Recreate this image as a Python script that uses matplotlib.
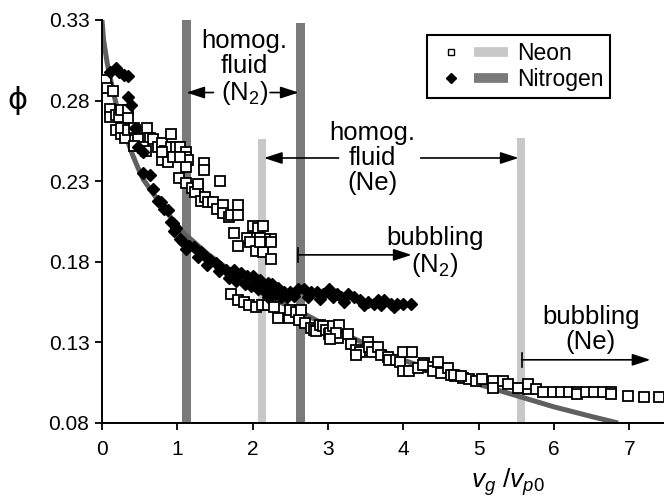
import numpy as np
import matplotlib
matplotlib.use("Agg")
import matplotlib.pyplot as plt
from matplotlib.lines import Line2D
from matplotlib.legend_handler import HandlerTuple

plt.rcParams['font.family'] = ['Liberation Sans', 'DejaVu Sans']
plt.rcParams['mathtext.fontset'] = 'custom'
plt.rcParams['mathtext.rm'] = 'Liberation Sans'
plt.rcParams['mathtext.it'] = 'Liberation Sans:italic'

# ---- data ----
neon_pts = [
    (0.05, 0.293), (0.06, 0.288), (0.14, 0.286), (0.11, 0.275), (0.11, 0.270),
    (0.18, 0.271), (0.22, 0.270), (0.25, 0.274), (0.34, 0.274), (0.35, 0.269),
    (0.18, 0.262), (0.25, 0.259), (0.31, 0.257), (0.25, 0.263), (0.35, 0.262),
    (0.44, 0.262), (0.42, 0.263), (0.48, 0.256), (0.42, 0.252), (0.60, 0.263),
    (0.64, 0.257), (0.68, 0.256), (0.55, 0.251), (0.58, 0.249), (0.74, 0.251),
    (0.80, 0.254), (0.84, 0.249), (0.91, 0.259), (0.91, 0.251), (0.98, 0.251),
    (0.80, 0.243), (0.80, 0.248), (0.87, 0.242), (0.94, 0.245), (1.04, 0.251),
    (1.11, 0.248), (1.11, 0.245), (1.14, 0.243), (1.11, 0.239), (1.04, 0.245),
    (1.35, 0.241), (1.35, 0.237), (1.57, 0.230), (1.02, 0.232), (1.11, 0.229),
    (1.20, 0.226), (1.28, 0.226), (1.24, 0.223), (1.31, 0.218), (1.37, 0.220),
    (1.41, 0.217), (1.48, 0.217), (1.53, 0.213), (1.60, 0.215), (1.60, 0.210),
    (1.68, 0.208), (1.71, 0.209), (1.81, 0.215), (1.81, 0.209), (1.75, 0.198),
    (2.00, 0.202), (2.07, 0.201), (2.14, 0.202), (2.01, 0.195), (2.24, 0.194),
    (2.17, 0.194), (1.93, 0.195), (2.10, 0.195), (1.81, 0.190), (1.97, 0.192),
    (2.04, 0.187), (2.14, 0.189), (2.14, 0.186), (2.24, 0.192), (2.24, 0.182),
    (2.10, 0.192), (1.28, 0.228),
    (1.71, 0.160), (1.81, 0.156), (1.88, 0.155), (1.95, 0.153), (2.04, 0.152),
    (2.13, 0.153), (2.20, 0.153), (2.28, 0.152), (2.33, 0.145), (2.48, 0.145),
    (2.50, 0.150), (2.57, 0.149), (2.61, 0.144), (2.64, 0.150), (2.70, 0.142),
    (2.77, 0.139), (2.81, 0.138), (2.84, 0.137), (2.90, 0.141), (2.93, 0.140),
    (2.97, 0.138), (3.01, 0.135), (3.03, 0.136), (3.07, 0.140), (3.13, 0.133),
    (3.14, 0.141), (3.10, 0.136), (3.03, 0.132), (3.27, 0.135), (3.30, 0.129),
    (3.37, 0.125), (3.43, 0.124), (3.37, 0.122), (3.53, 0.130), (3.54, 0.127),
    (3.59, 0.124), (3.67, 0.127), (3.70, 0.122), (3.79, 0.121), (3.81, 0.119),
    (3.90, 0.119), (3.96, 0.118), (3.99, 0.124), (4.12, 0.124), (4.00, 0.112),
    (4.07, 0.112), (4.20, 0.114), (4.27, 0.117), (4.36, 0.115), (4.40, 0.112),
    (4.46, 0.118), (4.50, 0.111), (4.59, 0.114), (4.63, 0.110), (4.69, 0.109),
    (4.79, 0.108), (4.87, 0.107), (4.96, 0.106), (5.05, 0.107), (5.19, 0.106),
    (5.19, 0.102), (5.32, 0.106), (5.39, 0.104), (5.52, 0.102), (5.65, 0.101),
    (5.66, 0.104), (5.76, 0.101), (5.86, 0.099), (5.98, 0.099), (6.09, 0.099),
    (6.20, 0.099), (6.31, 0.099), (6.31, 0.098), (6.42, 0.099), (6.53, 0.099),
    (6.65, 0.099), (6.75, 0.099), (6.75, 0.098), (6.98, 0.097), (7.19, 0.096),
    (7.39, 0.096), (4.26, 0.116), (4.67, 0.110), (4.76, 0.109),
]

nitrogen_pts = [
    (0.11, 0.298), (0.18, 0.300), (0.23, 0.298), (0.29, 0.296), (0.34, 0.295),
    (0.35, 0.282), (0.39, 0.277), (0.44, 0.263), (0.48, 0.251), (0.54, 0.248),
    (0.55, 0.235), (0.64, 0.234), (0.68, 0.225), (0.74, 0.218), (0.78, 0.217),
    (0.82, 0.213), (0.87, 0.212), (0.91, 0.205), (0.94, 0.204), (0.98, 0.201),
    (0.95, 0.199), (1.04, 0.194), (1.08, 0.192), (1.15, 0.190), (1.22, 0.189),
    (1.31, 0.186), (1.35, 0.184), (1.44, 0.181), (1.51, 0.179), (1.57, 0.177),
    (1.64, 0.175), (1.71, 0.173), (1.75, 0.175), (1.81, 0.171), (1.84, 0.173),
    (1.93, 0.171), (2.01, 0.171), (2.05, 0.168), (2.10, 0.169), (2.14, 0.163),
    (2.20, 0.167), (2.20, 0.158), (2.26, 0.166), (2.28, 0.163), (2.33, 0.164),
    (2.37, 0.158), (2.41, 0.161), (2.50, 0.161), (2.60, 0.163), (2.68, 0.163),
    (2.77, 0.161), (2.86, 0.161), (2.94, 0.160), (3.01, 0.163), (3.07, 0.158),
    (3.17, 0.158), (3.21, 0.155), (3.27, 0.160), (3.34, 0.158), (3.43, 0.156),
    (3.53, 0.155), (3.61, 0.154), (3.70, 0.153), (3.74, 0.156), (3.83, 0.154),
    (3.92, 0.154), (4.00, 0.154), (4.10, 0.154),
    (1.12, 0.188), (1.27, 0.183), (1.40, 0.178), (1.55, 0.174), (1.68, 0.170),
    (1.78, 0.168), (1.90, 0.166), (1.98, 0.165), (2.07, 0.163), (2.17, 0.162),
    (2.30, 0.160), (2.45, 0.158), (2.55, 0.159), (2.73, 0.158), (2.90, 0.157),
    (3.12, 0.160), (3.48, 0.153), (3.66, 0.156), (3.88, 0.152),
]

fit_x = [0, 0.02, 0.07, 0.15, 0.25, 0.31, 0.40, 0.48, 0.55, 0.82, 1.08, 1.40,
         1.80, 2.14, 2.59, 3.0, 3.5, 4.0, 4.5, 5.0, 5.5, 6.0, 6.5, 6.85]
fit_y = [0.33, 0.318, 0.303, 0.285, 0.267, 0.259, 0.247, 0.238, 0.231, 0.213,
         0.198, 0.185, 0.171, 0.160, 0.150, 0.140, 0.129, 0.119, 0.111, 0.104,
         0.097, 0.090, 0.084, 0.080]

# transition bars (x position, top)
n2_bar_x = [1.12, 2.63]
n2_bar_top = [0.33, 0.328]
ne_bar_x = [2.12, 5.56]
ne_bar_top = [0.256, 0.257]

yticks = [0.08, 0.13, 0.18, 0.23, 0.28, 0.33]
xticks = [0, 1, 2, 3, 4, 5, 6, 7]

neon = np.array(neon_pts)
nitro = np.array(nitrogen_pts)

light = '#c8c8c8'
dark = '#7a7a7a'

fig = plt.figure(figsize=(6.64, 5.0), dpi=100)
ax = fig.add_axes([0.1536, 0.154, 0.8464, 0.806])

ybot = 0.08
ax.bar(n2_bar_x, np.array(n2_bar_top) - ybot, bottom=ybot, width=0.12,
       color=dark, zorder=1)
ax.bar(ne_bar_x, np.array(ne_bar_top) - ybot, bottom=ybot, width=0.11,
       color=light, zorder=1)

ax.plot(fit_x, fit_y, color='#5f5f5f', lw=3.6, zorder=2, solid_capstyle='butt')

ax.plot(neon[:, 0], neon[:, 1], 's', ms=6.5, mfc='white', mec='black', mew=1.3,
        ls='none', zorder=3)
ax.plot(nitro[:, 0], nitro[:, 1], 'D', ms=6.5, color='black', ls='none', zorder=4)

ax.set_xlim(0, 7.46)
ax.set_ylim(0.08, 0.33)
ax.set_xticks(xticks)
ax.set_yticks(yticks)
ax.set_yticklabels(['%.2f' % v for v in yticks])
for s in ['top', 'right']:
    ax.spines[s].set_visible(False)
for s in ['left', 'bottom']:
    ax.spines[s].set_linewidth(1.4)
ax.tick_params(axis='y', direction='out', length=5, width=1.3, labelsize=15, pad=4)
ax.tick_params(axis='x', direction='out', length=5, width=1.3, labelsize=15, pad=7)

ax.text(-0.15, 0.80, '\u03d5', transform=ax.transAxes, fontsize=22,
        ha='center', va='center', family=['DejaVu Sans'])
ax.text(0.722, -0.146, '$v_g\\ /v_{p0}$', transform=ax.transAxes, fontsize=19,
        ha='center', va='center')

# annotations
txt = dict(fontsize=18.5, ha='center', va='center', linespacing=1.05)
ax.text(1.89, 0.300, 'homog.\nfluid\n(N$_2$)', **txt)
ax.text(3.59, 0.2444, 'homog.\nfluid\n(Ne)', **txt)
ax.text(4.42, 0.186, 'bubbling\n(N$_2$)', **txt)
ax.text(6.49, 0.1378, 'bubbling\n(Ne)', **txt)

arr = dict(arrowstyle='-|>,head_length=1.1,head_width=0.36', color='black',
           lw=1.2, mutation_scale=10, shrinkA=0, shrinkB=0)
ax.annotate('', xy=(1.12, 0.285), xytext=(1.48, 0.285), arrowprops=arr)
ax.annotate('', xy=(2.61, 0.285), xytext=(2.23, 0.285), arrowprops=arr)
ax.annotate('', xy=(2.15, 0.2444), xytext=(3.14, 0.2444), arrowprops=arr)
ax.annotate('', xy=(5.53, 0.2444), xytext=(4.23, 0.2444), arrowprops=arr)
ax.annotate('', xy=(4.11, 0.1843), xytext=(2.60, 0.1843), arrowprops=arr)
ax.annotate('', xy=(7.28, 0.1192), xytext=(5.57, 0.1192), arrowprops=arr)
ax.plot([2.60, 2.60], [0.1800, 0.1886], color='black', lw=1.2)
ax.plot([5.57, 5.57], [0.1150, 0.1234], color='black', lw=1.2)

# legend
h_ne = (Line2D([], [], marker='s', ms=5, mfc='white', mec='black', mew=1, ls='none'),
        Line2D([], [], color=light, lw=7, solid_capstyle='butt'))
h_n2 = (Line2D([], [], marker='D', ms=5, color='black', ls='none'),
        Line2D([], [], color=dark, lw=7, solid_capstyle='butt'))
leg = ax.legend([h_ne, h_n2], ['Neon', 'Nitrogen'],
                handler_map={tuple: HandlerTuple(ndivide=None, pad=0.3)},
                loc='upper right', bbox_to_anchor=(0.904, 0.963),
                borderaxespad=0, fontsize=16.5, handlelength=3.2,
                handletextpad=0.4, labelspacing=0.15, borderpad=0.3,
                fancybox=False, framealpha=1, edgecolor='black')
leg.get_frame().set_linewidth(1.5)

fig.savefig('out.png', dpi=100)
